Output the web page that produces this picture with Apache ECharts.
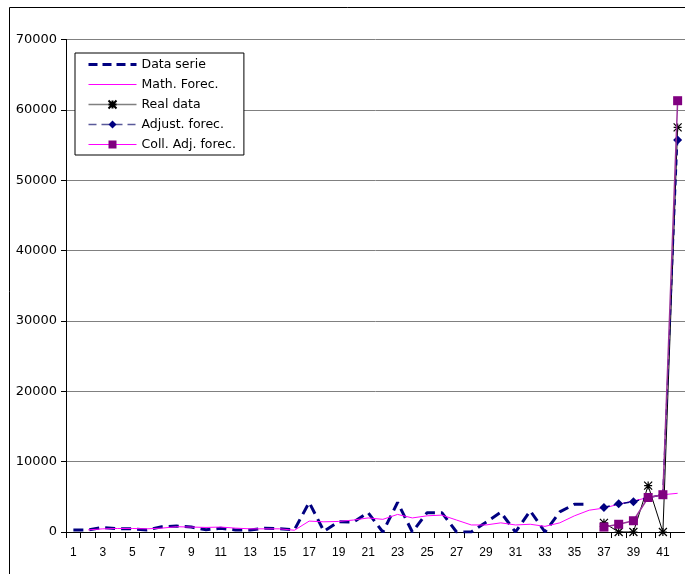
<!DOCTYPE html>
<html>
<head>
<meta charset="utf-8">
<script src="https://cdn.jsdelivr.net/npm/echarts@6/dist/echarts.min.js"></script>
<style>
  html, body { margin: 0; padding: 0; background: #fff; }
  #chart { width: 685px; height: 574px; }
</style>
</head>
<body>
<div id="chart"></div>
<script>
// categories 1..42
var categories = [];
for (var i = 1; i <= 42; i++) categories.push(String(i));

var dataSerie = [300, 300, 650, 450, 450, 300, 750, 850, 700, 330,
                 530, 290, 290, 530, 460, 330, 4200, 100, 1450, 1400,
                 2750, 0, 4200, 0, 2750, 2750, 0, 0, 1400, 2800,
                 0, 3000, 0, 2850, 3950, 3950, null, null, null, null,
                 null, null];
var mathForec = [null, 300, 450, 500, 500, 450, 550, 750, 700, 650,
                 700, 550, 450, 450, 450, 250, 1550, 1450, 1500, 1700,
                 2000, 1800, 2500, 2000, 2300, 2400, 1700, 1000, 1000, 1300,
                 1000, 1100, 800, 1300, 2300, 3100, 3400, 3950, 4400, 4900,
                 5300, 5500];
var realData = [null, null, null, null, null, null, null, null, null, null,
                null, null, null, null, null, null, null, null, null, null,
                null, null, null, null, null, null, null, null, null, null,
                null, null, null, null, null, null, 1300, 0, 0, 6600,
                0, 57500];
var adjustForec = [null, null, null, null, null, null, null, null, null, null,
                   null, null, null, null, null, null, null, null, null, null,
                   null, null, null, null, null, null, null, null, null, null,
                   null, null, null, null, null, null, 3500, 4000, 4300, 4900,
                   5300, 55700];
var collAdjForec = [null, null, null, null, null, null, null, null, null, null,
                    null, null, null, null, null, null, null, null, null, null,
                    null, null, null, null, null, null, null, null, null, null,
                    null, null, null, null, null, null, 700, 1100, 1600, 4900,
                    5300, 61300];

var asterisk = 'path://M0,0L10,10M10,0L0,10M0,5L10,5M5,0L5,10';

var chart = echarts.init(document.getElementById('chart'));
chart.setOption({
    animation: false,
    backgroundColor: '#fff',
    textStyle: { fontFamily: 'DejaVu Sans', color: '#000' },
    graphic: [{
        type: 'rect',
        shape: { x: 9.5, y: 7.5, width: 720, height: 620 },
        style: { fill: null, stroke: '#000', lineWidth: 1 },
        silent: true,
        z: -1
    }],
    grid: { left: 66, right: -7, top: 39.5, bottom: 42 },
    legend: {
        orient: 'vertical',
        left: 75,
        top: 53,
        padding: [5, 8, 4, 12],
        itemWidth: 48,
        itemHeight: 10,
        itemGap: 7,
        backgroundColor: '#fff',
        borderColor: '#000',
        borderWidth: 1,
        borderRadius: 0,
        textStyle: { fontSize: 12.5, fontFamily: 'DejaVu Sans', color: '#000' },
        data: [
            { name: 'Data serie', itemStyle: { opacity: 0 }, lineStyle: { width: 3, type: [9, 5], color: '#000080' } },
            { name: 'Math. Forec.', itemStyle: { opacity: 0 }, lineStyle: { width: 1, color: '#ff00ff' } },
            { name: 'Real data', lineStyle: { width: 1.5, color: '#808080' } },
            { name: 'Adjust. forec.', lineStyle: { width: 1.5, type: [8, 5], color: '#5a5a9a' } },
            { name: 'Coll. Adj. forec.', lineStyle: { width: 1, color: '#ff00ff' } }
        ]
    },
    xAxis: {
        type: 'category',
        data: categories,
        boundaryGap: true,
        axisLine: { lineStyle: { color: '#000', width: 1 } },
        axisTick: { show: true, interval: 0, inside: false, length: 6, lineStyle: { color: '#000', width: 1 } },
        axisLabel: { interval: 1, margin: 15, fontSize: 12, fontFamily: 'Liberation Sans', color: '#000' },
        splitLine: { show: false }
    },
    yAxis: {
        type: 'value',
        min: 0,
        max: 70000,
        interval: 10000,
        axisLine: { show: true, lineStyle: { color: '#000', width: 1 } },
        axisTick: { show: true, length: 5, lineStyle: { color: '#000' } },
        axisLabel: {
            margin: 9, fontSize: 13, fontFamily: 'DejaVu Sans', color: '#000',
            formatter: function (v) { return String(v); }
        },
        splitLine: { show: true, lineStyle: { color: '#808080', width: 1 } }
    },
    series: [
        {
            name: 'Data serie',
            type: 'line',
            data: dataSerie,
            showSymbol: false,
            symbol: 'none',
            connectNulls: false,
            lineStyle: { color: '#000080', width: 3, type: [10, 6] },
            itemStyle: { color: '#000080' },
            z: 2
        },
        {
            name: 'Math. Forec.',
            type: 'line',
            data: mathForec,
            symbol: 'none',
            lineStyle: { color: '#ff00ff', width: 1 },
            itemStyle: { color: '#ff00ff' },
            z: 3
        },
        {
            name: 'Real data',
            type: 'line',
            data: realData,
            symbol: asterisk,
            symbolSize: 8,
            lineStyle: { color: '#000', width: 1 },
            itemStyle: { color: 'none', borderColor: '#000', borderWidth: 1.2 },
            z: 4
        },
        {
            name: 'Adjust. forec.',
            type: 'line',
            data: adjustForec,
            symbol: 'diamond',
            symbolSize: 9,
            lineStyle: { color: '#000080', width: 1.5, type: [6, 4] },
            itemStyle: { color: '#000080' },
            z: 5
        },
        {
            name: 'Coll. Adj. forec.',
            type: 'line',
            data: collAdjForec,
            symbol: 'rect',
            symbolSize: 9,
            lineStyle: { color: '#993399', width: 1.5 },
            itemStyle: { color: '#800080' },
            z: 6
        }
    ]
});
</script>
</body>
</html>
